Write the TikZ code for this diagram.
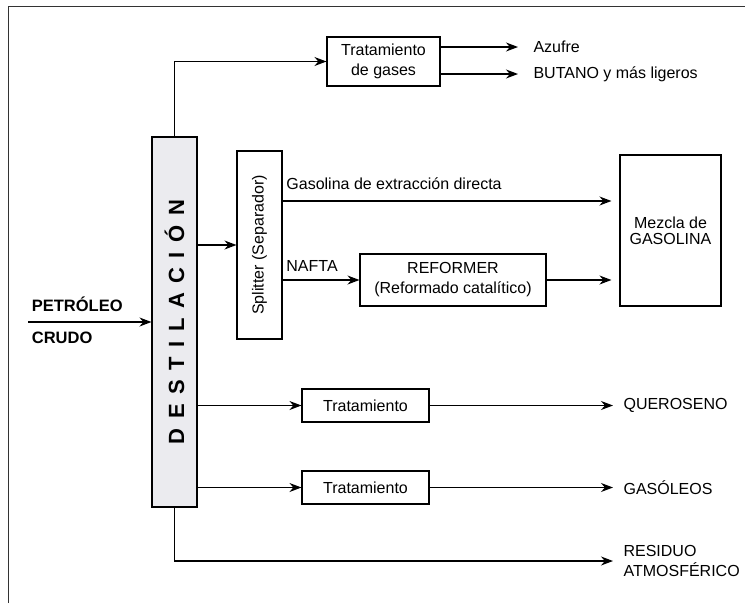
\documentclass[tikz,border=0pt]{standalone}
\usepackage{fontspec}
\setmainfont{Liberation Sans}
\usepackage{graphicx}
\usetikzlibrary{arrows.meta}
\definecolor{gristorre}{RGB}{235,235,239}
\newcommand{\lsp}{\hspace{9.5pt}}

\begin{document}
\begin{tikzpicture}[x=1pt,y=-1pt,line width=1.1pt,>={Stealth[length=12pt,width=9pt]},
    every node/.style={font=\fontsize{16}{20}\selectfont},
    caja/.style={draw,inner sep=2pt,align=center},
    salida/.style={anchor=west,inner xsep=10pt,inner ysep=0pt,align=left},
    rotulo/.style={font=\fontsize{16.5}{20}\selectfont\bfseries}]
    \useasboundingbox (0,0) rectangle (745,603);
    \draw[line width=1pt,black!80] (8,603) -- (8,6) -- (745,6);
    \path (174.5,322) node [caja,fill=gristorre,minimum width=45pt,minimum height=370pt](dest){\rotatebox{90}{\fontsize{22}{26}\selectfont\bfseries D\lsp E\lsp S\lsp T\lsp I\lsp L\lsp A\lsp C\lsp I\lsp Ó\lsp N}};
    \path (259.5,245) node [caja,minimum width=45pt,minimum height=188pt](split){\rotatebox{90}{Splitter (Separador)}};
    \path (383.5,61.5) node [caja,minimum width=113pt,minimum height=49pt](gases){Tratamiento\\de gases};
    \path (670.5,230.5) node [caja,minimum width=101pt,minimum height=151pt,font=\fontsize{16}{16}\selectfont](mezcla){Mezcla de\\GASOLINA};
    \path (453,280) node [caja,minimum width=186pt,minimum height=52pt](reformer){REFORMER\\(Reformado catalítico)};
    \path (365.5,405.5) node [caja,minimum width=127pt,minimum height=33pt](trat1){Tratamiento};
    \path (365.5,487.5) node [caja,minimum width=127pt,minimum height=33pt](trat2){Tratamiento};
    \path (518,47) node [salida,inner xsep=15pt](azufre){Azufre}
          (518,74) node [salida,inner xsep=15pt](butano){BUTANO y más ligeros};
    \path (613,405.5) node [salida](queroseno){QUEROSENO}
          (613,487.5) node [salida](gasoleos){GASÓLEOS}
          (613,561) node [salida](residuo){RESIDUO\\ATMOSFÉRICO};
    \coordinate (crudo) at (28,322);

    % entrada de crudo
    \draw[->] (crudo) -- node[pos=0,anchor=south west,rotulo,yshift=6.5pt](petroleo){PETRÓLEO}
        node[pos=0,anchor=north west,rotulo,yshift=-6pt](crudolbl){CRUDO} (dest.west |- crudo);
    % gases
    \draw[->] (dest.north) |- (gases);
    \draw[->] (gases.east |- azufre) -- (azufre);
    \draw[->] (gases.east |- butano) -- (butano);
    % gasolinas
    \draw[->] (dest.east |- split) -- (split);
    \draw[->,shorten >=8pt] (split.east |- 0,201) -- node[pos=0,anchor=south west,yshift=7.5pt](gaslbl){Gasolina de extracción directa} (mezcla.west |- 0,201);
    \draw[->] (split.east |- reformer) -- node[pos=0,anchor=south west,yshift=4.5pt](nafta){NAFTA} (reformer);
    \draw[->,shorten >=8pt] (reformer) -- (mezcla.west |- reformer);
    % queroseno, gasoleos, residuo
    \draw[->] (dest.east |- trat1) -- (trat1);
    \draw[->] (trat1) -- (queroseno);
    \draw[->] (dest.east |- trat2) -- (trat2);
    \draw[->] (trat2) -- (gasoleos);
    \draw[->] (dest.south) |- (residuo);

  \end{tikzpicture}
\end{document}
